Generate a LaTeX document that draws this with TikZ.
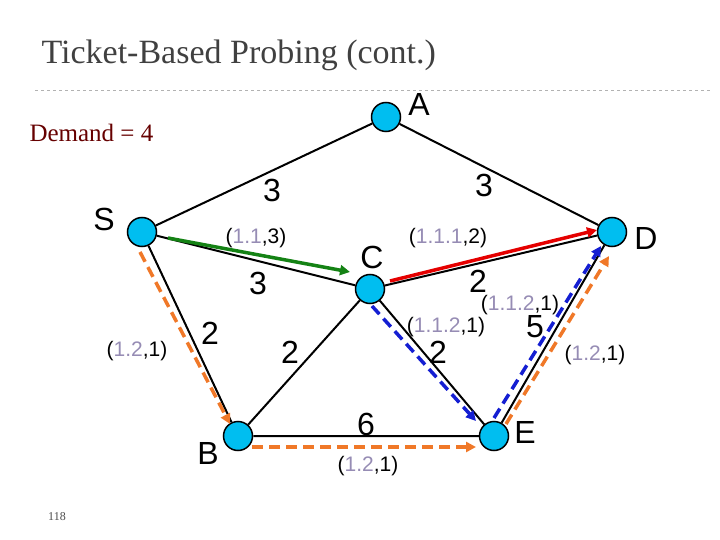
\documentclass[tikz,border=0pt]{standalone}
\usepackage{fontspec}
\newfontfamily\arial{Liberation Sans}
\setmainfont{Liberation Serif}
\usetikzlibrary{arrows.meta}
\definecolor{nodeblue}{RGB}{0,190,240}
\definecolor{lab}{RGB}{150,140,180}
\definecolor{og}{RGB}{240,120,40}
\definecolor{gr}{RGB}{20,130,20}
\definecolor{bl}{RGB}{20,30,210}
\begin{document}
\begin{tikzpicture}[x=1pt,y=-1pt,
 vtx/.style={circle,draw=black,line width=1.5pt,fill=nodeblue,minimum size=29pt,inner sep=0pt},
 edge/.style={line width=2pt},
 big/.style={font=\arial\fontsize{32}{32}\selectfont},
 sm/.style={font=\arial\fontsize{21}{21}\selectfont},
 pth/.style={line width=3.5pt,-{Triangle[length=10pt,width=10pt]}},
 dsh/.style={pth,dash pattern=on 11pt off 6pt}]
\useasboundingbox (0,0) rectangle (720,540);
\node[anchor=west,font=\fontsize{34}{34}\selectfont,text=black!75] (title) at (38,55) {Ticket-Based Probing (cont.)};
\coordinate (l1) at (35,90); \coordinate (l2) at (712,90);
\draw[gray!60,dashed] (l1) -- (l2);
\node[anchor=west,font=\fontsize{25}{25}\selectfont,text=red!40!black] (dem) at (26,133) {Demand = 4};
\node[font=\fontsize{12}{12}\selectfont,text=black!70] (pg) at (57,517) {118};
\node[vtx] (A) at (386,117) {};
\node[vtx] (S) at (142,232) {};
\node[vtx] (C) at (370,289) {};
\node[vtx] (D) at (612,232) {};
\node[vtx] (B) at (238,436) {};
\node[vtx] (E) at (494,436) {};
\draw[edge] (S)--(A) (A)--(D) (S)--(C) (C)--(D) (S)--(B) (B)--(C) (C)--(E) (B)--(E) (E)--(D);
\coordinate (g1) at (168,238); \coordinate (g2) at (350,272);
\draw[pth,gr] (g1)--(g2);
\coordinate (r1) at (390,281); \coordinate (r2) at (597,230);
\draw[pth,red!90!black] (r1)--(r2);
\coordinate (b1) at (372,306); \coordinate (b2) at (476,421);
\draw[dsh,bl] (b1)--(b2);
\coordinate (b3) at (494,418); \coordinate (b4) at (601,246);
\draw[dsh,bl] (b3)--(b4);
\coordinate (o1) at (140,252); \coordinate (o2) at (230,424);
\draw[dsh,og] (o1)--(o2);
\coordinate (o3) at (252,447); \coordinate (o4) at (476,447);
\draw[dsh,og] (o3)--(o4);
\coordinate (o5) at (506,424); \coordinate (o6) at (609,256);
\draw[dsh,og] (o5)--(o6);
\node[big] (nA) at (419,104) {A};
\node[big] (nS) at (104,219) {S};
\node[big] (nC) at (372,257) {C};
\node[big] (nD) at (646,238) {D};
\node[big] (nB) at (208,453) {B};
\node[big] (nE) at (525,432) {E};
\node[big] (w1) at (272,190) {3};
\node[big] (w2) at (484,185) {3};
\node[big] (w3) at (258,283) {3};
\node[big] (w4) at (478,281) {2};
\node[big] (w5) at (535,327) {5};
\node[big] (w6) at (438,352) {2};
\node[big] (w7) at (210,333) {2};
\node[big] (w8) at (290,352) {2};
\node[big] (w9) at (366,424) {6};
\node[sm] (t1) at (256,238) {(\textcolor{lab}{1.1},3)};
\node[sm] (t2) at (448,238) {(\textcolor{lab}{1.1.1},2)};
\node[sm] (t3) at (520,305) {(\textcolor{lab}{1.1.2},1)};
\node[sm] (t4) at (446,327) {(\textcolor{lab}{1.1.2},1)};
\node[sm] (t5) at (595,355) {(\textcolor{lab}{1.2},1)};
\node[sm] (t6) at (137,351) {(\textcolor{lab}{1.2},1)};
\node[sm] (t7) at (368,466) {(\textcolor{lab}{1.2},1)};
\end{tikzpicture}
\end{document}
